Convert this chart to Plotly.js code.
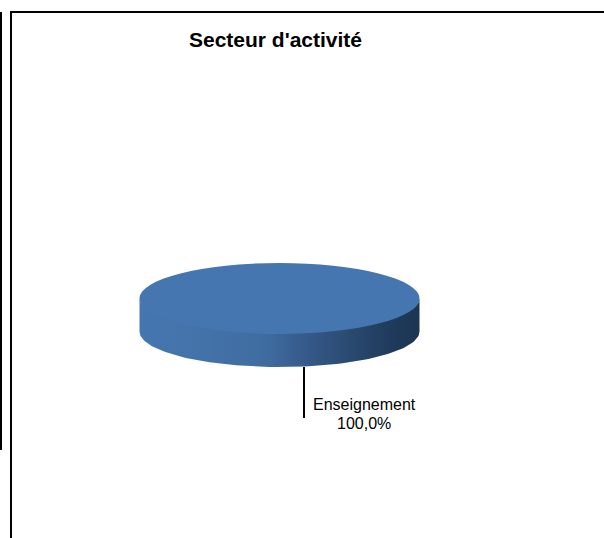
<!DOCTYPE html>
<html>
<head>
<meta charset="utf-8">
<script src="https://cdn.plot.ly/plotly-3.0.1.min.js"></script>
<style>html,body{margin:0;padding:0;background:#fff}#chart{width:604px;height:538px}</style>
</head>
<body>
<div id="chart"></div>
<script>
var chartTitle = "Secteur d'activité";
var categories = ["Enseignement"];
var shares = [100.0];
var topColor = "#4576af";
var wallScale = [[0,"#4576af"],[0.2,"#4473aa"],[0.45,"#3f6ca0"],[0.6,"#35598a"],[0.75,"#2a4a70"],[0.9,"#1f3a5c"],[1,"#1d3553"]];

var W = 604, H = 538;
var cx = 279.5, cy = 298.5, rx = 140, ry = 35.5, depth = 33;
var wallOverlap = 3;
var wallSteps = 90;

// side wall of the disc, spanning the front half of the ellipse occupied by the slice;
// its upper edge runs slightly under the top face so no seam shows
var total = shares.reduce(function(a,b){return a+b;},0);
var sweep = Math.PI * Math.min(1, shares[0] / total);
var wallX = [], wallY = [];
for (var i = 0; i <= wallSteps; i++) {
  var t = sweep * i / wallSteps;
  wallX.push(cx + rx * Math.cos(t)); wallY.push(cy + (ry - wallOverlap) * Math.sin(t));
}
for (var j = wallSteps; j >= 0; j--) {
  var u = sweep * j / wallSteps;
  wallX.push(cx + rx * Math.cos(u)); wallY.push(cy + depth + ry * Math.sin(u));
}

var pieR = rx;
var traces = [
  {type:"scatter", mode:"lines", x:wallX, y:wallY, fill:"toself", line:{width:0},
   fillgradient:{type:"horizontal", colorscale:wallScale},
   hoverinfo:"skip", showlegend:false},
  {type:"pie", labels:categories, values:shares, textinfo:"none", sort:false,
   marker:{colors:[topColor], line:{width:0}},
   domain:{x:[(cx-pieR)/W,(cx+pieR)/W], y:[(H-cy-pieR)/H,(H-cy+pieR)/H]},
   showlegend:false}
];

var labelFont = {family:"Liberation Sans, Arial, sans-serif", size:16, color:"#000"};
var layout = {
  width:W, height:H, margin:{l:0,r:0,t:0,b:0}, autosize:false,
  paper_bgcolor:"#fff", plot_bgcolor:"rgba(0,0,0,0)", showlegend:false,
  xaxis:{range:[0,W], visible:false, fixedrange:true},
  yaxis:{range:[H,0], visible:false, fixedrange:true},
  title:{text:chartTitle, font:{family:"Liberation Sans, Arial, sans-serif", size:21, color:"#000", weight:700},
         x:275.5/W, xanchor:"center", y:1-40/H, yanchor:"middle"},
  shapes:[
    {type:"line", x0:1, x1:1, y0:12, y1:450, line:{color:"#000",width:2}},
    {type:"line", x0:11, x1:11, y0:12, y1:538, line:{color:"#000",width:2}},
    {type:"line", x0:10, x1:604, y0:12, y1:12, line:{color:"#000",width:2}},
    {type:"line", x0:304, x1:304, y0:367, y1:418, line:{color:"#000",width:2}}
  ],
  annotations:[
    {x:364, y:404, xref:"x", yref:"y", showarrow:false, xanchor:"center", yanchor:"middle",
     text:categories[0], font:labelFont},
    {x:364, y:423, xref:"x", yref:"y", showarrow:false, xanchor:"center", yanchor:"middle",
     text:shares[0].toFixed(1).replace(".",",")+"%", font:labelFont}
  ]
};

Plotly.newPlot("chart", traces, layout, {displayModeBar:false, staticPlot:true}).then(function(){
  var k = ry / pieR;
  var g = document.querySelector("#chart .pielayer");
  if (g) g.setAttribute("transform", "translate(0," + (cy*(1-k)) + ") scale(1," + k + ")");
});
</script>
</body>
</html>
